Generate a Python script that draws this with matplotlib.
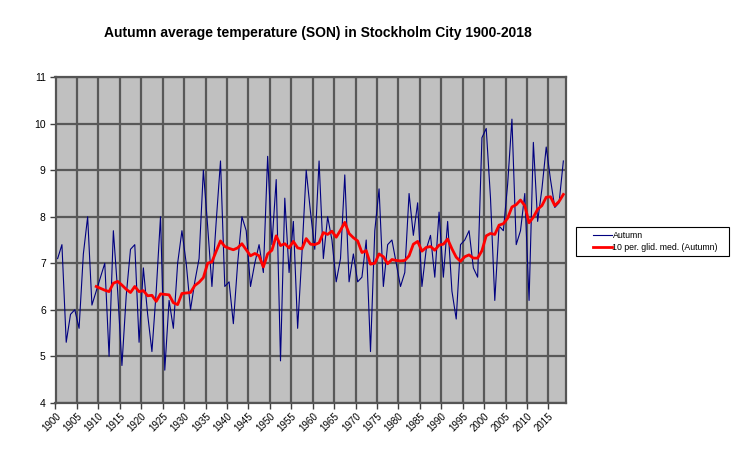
import numpy as np
import pandas as pd
import matplotlib
matplotlib.use("Agg")
import matplotlib.pyplot as plt
from matplotlib.patches import Rectangle
from matplotlib.lines import Line2D

plt.rcParams['font.family'] = ['Liberation Sans', 'DejaVu Sans']

years = list(range(1900, 2019))
autumn = [
    7.1, 7.4, 5.3, 5.9, 6.0, 5.6, 7.2, 8.0, 6.1, 6.4,   # 1900-1909
    6.7, 7.0, 5.0, 7.7, 6.4, 4.8, 6.3, 7.3, 7.4, 5.3,   # 1910-1919
    6.9, 5.9, 5.1, 6.4, 8.0, 4.7, 6.2, 5.6, 7.0, 7.7,   # 1920-1929
    7.0, 6.0, 6.6, 7.1, 9.0, 7.8, 6.5, 7.9, 9.2, 6.5,   # 1930-1939
    6.6, 5.7, 7.0, 8.0, 7.7, 6.5, 7.0, 7.4, 6.8, 9.3,   # 1940-1949
    7.4, 8.8, 4.9, 8.4, 6.8, 7.9, 5.6, 7.2, 9.0, 8.1,   # 1950-1959
    7.3, 9.2, 7.1, 8.0, 7.5, 6.6, 7.1, 8.9, 6.6, 7.2,   # 1960-1969
    6.6, 6.7, 7.5, 5.1, 7.7, 8.6, 6.5, 7.4, 7.5, 7.0,   # 1970-1979
    6.5, 6.8, 8.5, 7.6, 8.3, 6.5, 7.3, 7.6, 6.7, 8.1,   # 1980-1989
    6.7, 7.9, 6.4, 5.8, 7.4, 7.5, 7.7, 6.9, 6.7, 9.7,   # 1990-1999
    9.9, 8.4, 6.2, 7.8, 7.7, 8.7, 10.1, 7.4, 7.7, 8.5,  # 2000-2009
    6.2, 9.6, 7.9, 8.6, 9.5, 8.8, 8.2, 8.3, 9.2,        # 2010-2018
]
window = 10
title = "Autumn average temperature (SON) in Stockholm City 1900-2018"
series_names = ["Autumn", "10 per. glid. med. (Autumn)"]
y_ticks = [4, 5, 6, 7, 8, 9, 10, 11]
x_label_years = list(range(1900, 2016, 5))

s = pd.Series(autumn, index=years)
moving = s.rolling(window).mean()

W, H = 732, 449
fig = plt.figure(figsize=(W / 100, H / 100), dpi=100)
fig.patch.set_facecolor('white')
L, R, T, B = 55.5, 565.5, 77.3, 402.7
ax = fig.add_axes([L / W, 1 - B / H, (R - L) / W, (B - T) / H])
ax.set_facecolor('#C0C0C0')

grid_c = '#585858'
ax.set_xlim(years[0] - 0.5, years[-1] + 0.5)
ax.set_ylim(min(y_ticks), max(y_ticks))
ax.set_yticks(y_ticks)
xt = [y - 0.5 for y in x_label_years]
ax.set_xticks(xt)
ax.set_xticklabels([str(y) for y in x_label_years], rotation=45,
                   ha='right', rotation_mode='anchor', fontsize=7)
ax.tick_params(axis='x', length=4, width=1, color='#404040', pad=2)
ax.tick_params(axis='y', length=4, width=1, color='#404040', labelsize=7.5, pad=3)
ax.grid(True, color=grid_c, linewidth=1.6, zorder=0)
ax.set_axisbelow(True)
for sp in ax.spines.values():
    sp.set_color('#555555')
    sp.set_linewidth(1.6)

l1, = ax.plot(s.index, s.values, color='#000080', linewidth=0.8, zorder=3,
              label=series_names[0])
l2, = ax.plot(moving.index, moving.values, color='#FF0000', linewidth=2.0,
              zorder=4, label=series_names[1])

fig.text(318 / W, 1 - 33 / H, title, ha='center', va='center',
         fontsize=10, fontweight='bold')

# legend box (figure pixel coords converted to fractions)
def fx(px):
    return px / W

def fy(py):
    return 1 - py / H

lx0, lx1, ly0, ly1 = 575.5, 729.0, 227.3, 255.5
fig.add_artist(Rectangle((fx(lx0), fy(ly1)), fx(lx1) - fx(lx0), fy(ly0) - fy(ly1),
                         transform=fig.transFigure, facecolor='white',
                         edgecolor='black', linewidth=0.8))
for handle, name, row_y in zip([l1, l2], series_names, [235.0, 247.3]):
    fig.add_artist(Line2D([fx(592.5), fx(611.5)], [fy(row_y), fy(row_y)],
                          transform=fig.transFigure, color=handle.get_color(),
                          linewidth=handle.get_linewidth()))
    fig.text(fx(612.5), fy(row_y), name, ha='left', va='center', fontsize=6.3)

fig.savefig('out.png', dpi=100, facecolor='white')
